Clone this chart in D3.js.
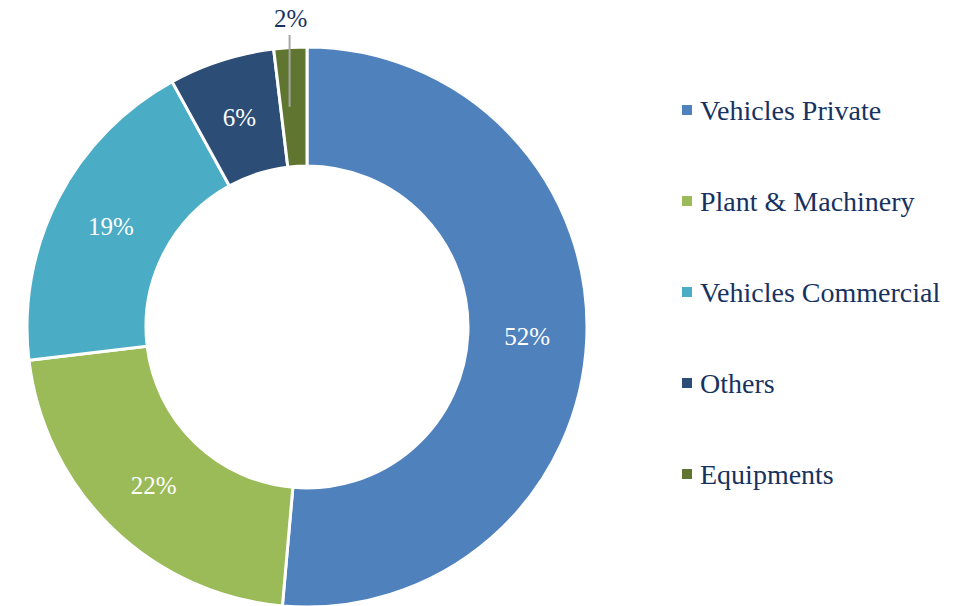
<!DOCTYPE html>
<html>
<head>
<meta charset="utf-8">
<script src="https://cdn.jsdelivr.net/npm/d3@7"></script>
<style>
  body { margin: 0; background: #fff; }
  svg text { font-family: "Liberation Serif", "DejaVu Serif", serif; }
</style>
</head>
<body>
<div id="base"></div>
<script>
// data
var categories = ["Vehicles Private", "Plant & Machinery", "Vehicles Commercial", "Others", "Equipments"];
var shares = [51.4, 21.7, 18.9, 6.1, 1.9];
var shareLabels = ["52%", "22%", "19%", "6%", "2%"];
var colors = ["#4f81bd", "#9bbb59", "#4bacc6", "#2c4d75", "#5f7530"];

const width = 967;
const height = 606;
const cx = 307, cy = 327;
const outerR = 280, innerR = 161;

const svg = d3.select("#base").append("svg")
    .attr("width", width)
    .attr("height", height);

const pie = d3.pie().sort(null).value(d => d.v);
const arcs = pie(categories.map((c, i) => ({c: c, v: shares[i], label: shareLabels[i], color: colors[i]})));

const arc = d3.arc().innerRadius(innerR).outerRadius(outerR);

const g = svg.append("g").attr("transform", `translate(${cx},${cy})`);

g.selectAll("path")
  .data(arcs)
  .join("path")
    .attr("d", arc)
    .attr("fill", d => d.data.color)
    .attr("stroke", "#fff")
    .attr("stroke-width", 3);

// labels inside slices, the tiny one goes outside with a leader line
var inside = arcs.filter(d => d.data.v >= 3);
var outside = arcs.filter(d => d.data.v < 3);

g.selectAll("text.inner")
  .data(inside)
  .join("text")
    .attr("class", "inner")
    .attr("x", d => arc.centroid(d)[0])
    .attr("y", d => arc.centroid(d)[1])
    .attr("dy", "0.35em")
    .attr("text-anchor", "middle")
    .attr("fill", "#fff")
    .attr("font-size", 25)
    .text(d => d.data.label);

outside.forEach(d => {
  var a = (d.startAngle + d.endAngle) / 2;
  var mid = arc.centroid(d);
  var lx = Math.sin(a) * (outerR + 12);
  g.append("line")
    .attr("x1", lx).attr("y1", mid[1])
    .attr("x2", lx).attr("y2", -outerR - 12)
    .attr("stroke", "#a6a6a6")
    .attr("stroke-width", 2);
  g.append("text")
    .attr("x", lx + 1)
    .attr("y", -outerR - 29)
    .attr("dy", "0.35em")
    .attr("text-anchor", "middle")
    .attr("fill", "#17325f")
    .attr("font-size", 25)
    .text(d.data.label);
});

// legend
const legendY = d3.scalePoint().domain(categories).range([110, 474]);

const legend = svg.append("g")
  .selectAll("g")
  .data(categories)
  .join("g")
    .attr("transform", d => `translate(682,${legendY(d)})`);

legend.append("rect")
    .attr("x", 0).attr("y", -5)
    .attr("width", 10).attr("height", 10)
    .attr("fill", (d, i) => colors[i]);

legend.append("text")
    .attr("x", 18)
    .attr("dy", "0.35em")
    .attr("fill", "#17325f")
    .attr("font-size", 28)
    .text(d => d);
</script>
</body>
</html>
